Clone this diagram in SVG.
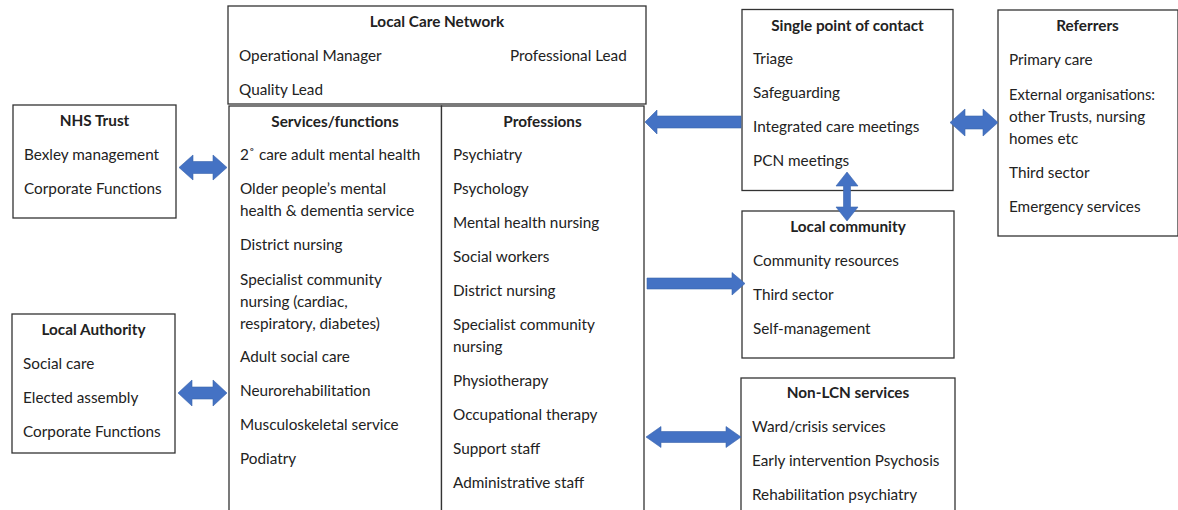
<svg xmlns="http://www.w3.org/2000/svg" width="1178" height="510" viewBox="0 0 1178 510">
<style>
.box{fill:#fff;stroke:#333;stroke-width:1.3}
text{font-family:Lato,"Liberation Sans",sans-serif;font-size:15.3px;fill:#222}
.t{font-weight:bold;text-anchor:middle}
.arr{fill:#4472C4;stroke:#3b64ad;stroke-width:0.6}
</style>
<rect width="1178" height="510" fill="#fff"/>
<g id="local-care-network">
<rect class="box" x="228" y="6" width="418" height="98"/>
<text class="t" x="437" y="27">Local Care Network</text>
<text x="239" y="61">Operational Manager</text>
<text x="510" y="61">Professional Lead</text>
<text x="239" y="95">Quality Lead</text>
</g>
<g id="services">
<rect class="box" x="229" y="106" width="212.5" height="410"/>
<text class="t" x="335" y="127">Services/functions</text>
<text x="240" y="160">2˚ care adult mental health</text>
<text x="240" y="194">Older people’s mental</text>
<text x="240" y="216">health &amp; dementia service</text>
<text x="240" y="250">District nursing</text>
<text x="240" y="285">Specialist community</text>
<text x="240" y="307">nursing (cardiac,</text>
<text x="240" y="329">respiratory, diabetes)</text>
<text x="240" y="362">Adult social care</text>
<text x="240" y="396">Neurorehabilitation</text>
<text x="240" y="430">Musculoskeletal service</text>
<text x="240" y="464">Podiatry</text>
</g>
<g id="professions">
<rect class="box" x="441.5" y="106" width="202.5" height="410"/>
<text class="t" x="542.5" y="127">Professions</text>
<text x="453" y="160">Psychiatry</text>
<text x="453" y="194">Psychology</text>
<text x="453" y="228">Mental health nursing</text>
<text x="453" y="262">Social workers</text>
<text x="453" y="296">District nursing</text>
<text x="453" y="330">Specialist community</text>
<text x="453" y="352">nursing</text>
<text x="453" y="386">Physiotherapy</text>
<text x="453" y="420">Occupational therapy</text>
<text x="453" y="454">Support staff</text>
<text x="453" y="488">Administrative staff</text>
</g>
<g id="nhs-trust">
<rect class="box" x="13" y="105" width="163" height="113"/>
<text class="t" x="94.5" y="126">NHS Trust</text>
<text x="24" y="160">Bexley management</text>
<text x="24" y="194">Corporate Functions</text>
</g>
<g id="local-authority">
<rect class="box" x="12" y="314" width="163" height="139"/>
<text class="t" x="93.5" y="335">Local Authority</text>
<text x="23" y="369">Social care</text>
<text x="23" y="403">Elected assembly</text>
<text x="23" y="437">Corporate Functions</text>
</g>
<g id="single-point-of-contact">
<rect class="box" x="742" y="9.5" width="211" height="181"/>
<text class="t" x="847.5" y="31">Single point of contact</text>
<text x="753" y="64">Triage</text>
<text x="753" y="98">Safeguarding</text>
<text x="753" y="132">Integrated care meetings</text>
<text x="753" y="166">PCN meetings</text>
</g>
<g id="referrers">
<rect class="box" x="998" y="10" width="180" height="226"/>
<text class="t" x="1087.5" y="31">Referrers</text>
<text x="1009" y="65">Primary care</text>
<text x="1009" y="100" textLength="146" lengthAdjust="spacingAndGlyphs">External organisations:</text>
<text x="1009" y="122">other Trusts, nursing</text>
<text x="1009" y="144">homes etc</text>
<text x="1009" y="178">Third sector</text>
<text x="1009" y="212">Emergency services</text>
</g>
<g id="local-community">
<rect class="box" x="742" y="211" width="212" height="147"/>
<text class="t" x="848" y="232">Local community</text>
<text x="753" y="266">Community resources</text>
<text x="753" y="300">Third sector</text>
<text x="753" y="334">Self-management</text>
</g>
<g id="non-lcn-services">
<rect class="box" x="741" y="378" width="214" height="140"/>
<text class="t" x="848" y="398">Non-LCN services</text>
<text x="752" y="432">Ward/crisis services</text>
<text x="752" y="466">Early intervention Psychosis</text>
<text x="752" y="500">Rehabilitation psychiatry</text>
</g>
<g id="connectors">
<polygon class="arr" points="179,167.5 193,155 193,161.5 213,161.5 213,155 227,167.5 213,180 213,173.5 193,173.5 193,180"/>
<polygon class="arr" points="178,393 192,380 192,387 213,387 213,380 227,393 213,406 213,399 192,399 192,406"/>
<polygon class="arr" points="645,122 657,110 657,116 741,116 741,128 657,128 657,134"/>
<polygon class="arr" points="950,122.5 965,109 965,116 983,116 983,109 998,122.5 983,136 983,129 965,129 965,136"/>
<polygon class="arr" points="847,172 858,186 850.5,186 850.5,207 858,207 847,221 836,207 843.5,207 843.5,186 836,186"/>
<polygon class="arr" points="647,278 732,278 732,272.5 745,283.5 732,295 732,289 647,289"/>
<polygon class="arr" points="646,437 661,426.5 661,431.5 726,431.5 726,426.5 741,437 726,447.5 726,442.5 661,442.5 661,447.5"/>
</g>
</svg>
